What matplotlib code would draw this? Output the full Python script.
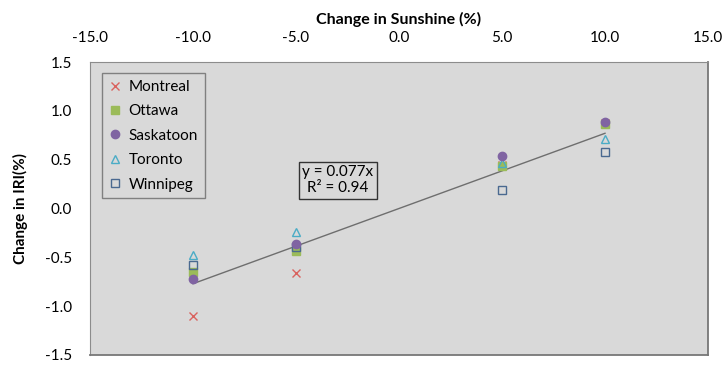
import numpy as np
import matplotlib

matplotlib.use("Agg")
import matplotlib.pyplot as plt

plt.rcParams["font.family"] = ["Lato", "DejaVu Sans"]

# change in sunshine (%)
sunshine = [-10.0, -5.0, 5.0, 10.0]

# change in IRI (%) per city
montreal = [-1.10, -0.66, 0.45, 0.88]
ottawa = [-0.65, -0.44, 0.44, 0.87]
saskatoon = [-0.72, -0.36, 0.54, 0.89]
toronto = [-0.48, -0.24, 0.47, 0.71]
winnipeg = [-0.58, -0.39, 0.19, 0.58]

slope = 0.077
r2 = 0.94
x_ticks = [-15.0, -10.0, -5.0, 0.0, 5.0, 10.0, 15.0]
y_ticks = [-1.5, -1.0, -0.5, 0.0, 0.5, 1.0, 1.5]

fig = plt.figure(figsize=(7.27, 3.67), dpi=100)
ax = fig.add_axes([90 / 727, 1 - 355 / 367, 618 / 727, 293 / 367])
ax.set_facecolor("#d9d9d9")

# trendline through origin
xl = np.array([min(sunshine), max(sunshine)])
ax.plot(xl, slope * xl, color="#6e6e6e", lw=1.0, zorder=2)

ax.plot(sunshine, montreal, ls="none", marker="x", ms=6, mew=1.0,
        color="#d9625e", label="Montreal", zorder=3)
ax.plot(sunshine, ottawa, ls="none", marker="s", ms=5.5,
        color="#9bbb59", label="Ottawa", zorder=4)
ax.plot(sunshine, saskatoon, ls="none", marker="o", ms=6,
        color="#8064a2", label="Saskatoon", zorder=5)
ax.plot(sunshine, toronto, ls="none", marker="^", ms=6, mfc="none",
        mec="#4bacc6", mew=1.0, label="Toronto", zorder=4)
ax.plot(sunshine, winnipeg, ls="none", marker="s", ms=6, mfc="none",
        mec="#4a6990", mew=1.0, label="Winnipeg", zorder=4)

ax.set_xlim(-15, 15)
ax.set_ylim(-1.5, 1.5)
ax.set_xticks(x_ticks)
ax.set_yticks(y_ticks)
ax.set_xticklabels([f"{v:.1f}" for v in x_ticks])
ax.set_yticklabels([f"{v:.1f}" for v in y_ticks])
ax.xaxis.tick_top()
ax.xaxis.set_label_position("top")
ax.tick_params(axis="x", length=0, labelsize=11, pad=12)
ax.tick_params(axis="y", length=0, labelsize=11, pad=13)
ax.set_xlabel("Change in Sunshine (%)", fontweight="bold", fontsize=11.5, labelpad=5)
ax.set_ylabel("Change in IRI(%)", fontweight="bold", fontsize=11, labelpad=12)

for side in ["top", "left"]:
    ax.spines[side].set_color("#8c8c8c")
for side in ["right", "bottom"]:
    ax.spines[side].set_color("#777777")
    ax.spines[side].set_linewidth(1.3)

leg = ax.legend(loc="upper left", bbox_to_anchor=(0.019, 0.962), borderaxespad=0,
                frameon=True, fancybox=False, edgecolor="#808080",
                facecolor="#d9d9d9", framealpha=1, fontsize=11,
                handlelength=0.8, handletextpad=0.5, labelspacing=0.68,
                borderpad=0.45)
leg.get_frame().set_linewidth(1.0)

ax.text(-2.96, 0.29, f"y = {slope}x\nR² = {r2}", ha="center", va="center",
        fontsize=11, linespacing=1.15,
        bbox=dict(boxstyle="square,pad=0.25", fc="#d9d9d9", ec="#333333", lw=1.0),
        zorder=6)

fig.savefig("out.png", dpi=100)
plt.close(fig)
